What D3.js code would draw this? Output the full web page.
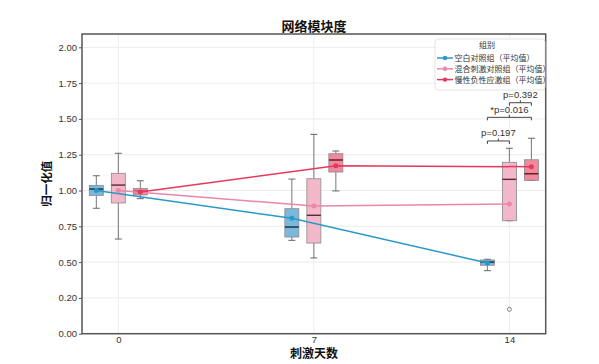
<!DOCTYPE html>
<html><head><meta charset="utf-8">
<script src="https://cdn.jsdelivr.net/npm/d3@7/dist/d3.min.js"></script>
<style>
html,body{margin:0;padding:0;background:#fff;}
svg text{font-family:"Liberation Sans","Noto Sans CJK SC",sans-serif;}
</style></head>
<body><svg id="c" width="599" height="364"></svg>
<script>
// ---- data ----
const days = [0, 7, 14];
const groupNames = ["空白对照组（平均值）", "混合刺激对照组（平均值）", "慢性负性应激组（平均值）"];
const yTickValues = [0, 0.25, 0.5, 0.75, 1.0, 1.25, 1.5, 1.75, 2.0];
const yTickLabels = ["0.00", "0.20", "0.50", "0.75", "1.00", "1.25", "1.50", "1.75", "2.00"];
const xTickLabels = ["0", "7", "14"];

// per group, per day
const blueWhiskLow  = [0.876, 0.652, 0.44];
const blueQ1        = [0.966, 0.675, 0.478];
const blueMedian    = [1.010, 0.745, 0.50];
const blueQ3        = [1.036, 0.873, 0.515];
const blueWhiskHigh = [1.103, 1.080, 0.52];
const blueMean      = [1.0, 0.806, 0.494];

const pinkWhiskLow  = [0.661, 0.529, 0.789];
const pinkQ1        = [0.913, 0.633, 0.789];
const pinkMedian    = [1.038, 0.827, 1.078];
const pinkQ3        = [1.12, 1.082, 1.197];
const pinkWhiskHigh = [1.26, 1.392, 1.295];
const pinkMean      = [1.0, 0.892, 0.906];
const pinkOutliers  = [[], [], [0.17]];

const redWhiskLow   = [0.943, 0.997, 1.071];
const redQ1         = [0.969, 1.129, 1.071];
const redMedian     = [0.994, 1.213, 1.117];
const redQ3         = [1.015, 1.257, 1.215];
const redWhiskHigh  = [1.068, 1.276, 1.365];
const redMean       = [0.99, 1.173, 1.166];

// significance brackets at day 14 (group index a,b ; level in data units)
const bracketA = [0, 0, 1];
const bracketB = [1, 2, 2];
const bracketLevel = [1.346, 1.511, 1.613];
const bracketLabels = ["p=0.197", "*p=0.016", "p=0.392"];

// ---- styles / layout ----
const lineColors = ["#2b98c8", "#ec87a6", "#e8375c"];
const boxFills = ["#6cb0d8", "#f2b0c4", "#f07b90"];
const medianColors = ["#1d2a38", "#5a2a36", "#5e1724"];
const groupOffset = [-22, 0, 22];
const boxW = 14;

const groups = [
  {lo: blueWhiskLow, q1: blueQ1, md: blueMedian, q3: blueQ3, hi: blueWhiskHigh, mean: blueMean, out: [[],[],[]]},
  {lo: pinkWhiskLow, q1: pinkQ1, md: pinkMedian, q3: pinkQ3, hi: pinkWhiskHigh, mean: pinkMean, out: pinkOutliers},
  {lo: redWhiskLow, q1: redQ1, md: redMedian, q3: redQ3, hi: redWhiskHigh, mean: redMean, out: [[],[],[]]}
];

const svg = d3.select("#c");
const L = 82, R = 545.7, T = 34, B = 333.7;
const x = d3.scaleLinear().domain([-1.3, 15.3]).range([L, R]);
const y = d3.scaleLinear().domain([0, 2.093]).range([B, T]);

// grid
const grid = svg.append("g");
grid.selectAll("line.h").data(yTickValues).join("line")
  .attr("x1", L).attr("x2", R).attr("y1", d => y(d)).attr("y2", d => y(d))
  .attr("stroke", "#ececec").attr("stroke-width", 1);
grid.selectAll("line.v").data(days).join("line")
  .attr("x1", d => x(d)).attr("x2", d => x(d)).attr("y1", T).attr("y2", B)
  .attr("stroke", "#ececec").attr("stroke-width", 1);

// axes
const yAxis = d3.axisLeft(y).tickValues(yTickValues).tickFormat((d, i) => yTickLabels[i]).tickSize(3).tickPadding(2);
const gy = svg.append("g").attr("transform", `translate(${L},0)`).call(yAxis);
gy.select(".domain").remove();
gy.selectAll("line").attr("stroke", "#555");
gy.selectAll("text").attr("font-size", 9.5).attr("fill", "#333");

const xAxis = d3.axisBottom(x).tickValues(days).tickFormat((d, i) => xTickLabels[i]).tickSize(0).tickPadding(3);
const gx = svg.append("g").attr("transform", `translate(0,${B})`).call(xAxis);
gx.select(".domain").remove();
gx.selectAll("text").attr("font-size", 9.5).attr("fill", "#333");

// boxes
const bx = svg.append("g");
groups.forEach((g, gi) => {
  days.forEach((d, di) => {
    const cx = x(d) + groupOffset[gi];
    bx.append("line").attr("x1", cx).attr("x2", cx).attr("y1", y(g.hi[di])).attr("y2", y(g.q3[di]))
      .attr("stroke", "#777").attr("stroke-width", 1);
    bx.append("line").attr("x1", cx).attr("x2", cx).attr("y1", y(g.q1[di])).attr("y2", y(g.lo[di]))
      .attr("stroke", "#777").attr("stroke-width", 1);
    [g.hi[di], g.lo[di]].forEach(v => {
      bx.append("line").attr("x1", cx - 3.5).attr("x2", cx + 3.5).attr("y1", y(v)).attr("y2", y(v))
        .attr("stroke", "#666").attr("stroke-width", 1);
    });
    bx.append("rect").attr("x", cx - boxW / 2).attr("width", boxW)
      .attr("y", y(g.q3[di])).attr("height", Math.max(1, y(g.q1[di]) - y(g.q3[di])))
      .attr("fill", boxFills[gi]).attr("fill-opacity", 0.9).attr("stroke", "#8a8a8a").attr("stroke-width", 0.8);
    bx.append("line").attr("x1", cx - boxW / 2).attr("x2", cx + boxW / 2)
      .attr("y1", y(g.md[di])).attr("y2", y(g.md[di]))
      .attr("stroke", medianColors[gi]).attr("stroke-width", 1.4);
    g.out[di].forEach(o => {
      bx.append("circle").attr("cx", cx).attr("cy", y(o)).attr("r", 2)
        .attr("fill", "none").attr("stroke", "#777").attr("stroke-width", 0.9);
    });
  });
});

// mean lines
const ln = svg.append("g");
groups.forEach((g, gi) => {
  const pts = days.map((d, di) => [x(d) + groupOffset[gi], y(g.mean[di])]);
  ln.append("path").attr("d", d3.line()(pts)).attr("fill", "none")
    .attr("stroke", lineColors[gi]).attr("stroke-width", 1.5);
  ln.selectAll(null).data(pts).join("circle").attr("cx", p => p[0]).attr("cy", p => p[1]).attr("r", 2.5)
    .attr("fill", lineColors[gi]);
});

// frame
svg.append("rect").attr("x", L).attr("y", T).attr("width", R - L).attr("height", B - T)
  .attr("fill", "none").attr("stroke", "#555").attr("stroke-width", 1.5);

// brackets
const br = svg.append("g");
bracketLabels.forEach((lab, i) => {
  const x1 = x(14) + groupOffset[bracketA[i]], x2 = x(14) + groupOffset[bracketB[i]];
  const yy = y(bracketLevel[i]);
  const xm = (x1 + x2) / 2;
  br.append("path").attr("d", `M${x1},${yy + 3}V${yy}H${x2}V${yy + 3}M${xm},${yy}V${yy - 2.5}`)
    .attr("fill", "none").attr("stroke", "#444").attr("stroke-width", 1);
  br.append("text").attr("x", xm).attr("y", yy - 4.5).attr("text-anchor", "middle")
    .attr("font-size", 9.5).attr("fill", "#333").text(lab);
});

// legend
const lg = svg.append("g");
lg.append("rect").attr("x", 435).attr("y", 39).attr("width", 110).attr("height", 51).attr("rx", 3)
  .attr("fill", "#fff").attr("fill-opacity", 0.9).attr("stroke", "#ddd").attr("stroke-width", 0.8);
lg.append("text").attr("x", 487).attr("y", 48).attr("text-anchor", "middle")
  .attr("font-size", 8).attr("fill", "#333").text("组别");
groupNames.forEach((nm, i) => {
  const yy = 58 + i * 10.8;
  lg.append("line").attr("x1", 437).attr("x2", 453).attr("y1", yy).attr("y2", yy)
    .attr("stroke", lineColors[i]).attr("stroke-width", 1.5);
  lg.append("circle").attr("cx", 445).attr("cy", yy).attr("r", 2.2).attr("fill", lineColors[i]);
  lg.append("text").attr("x", 454.5).attr("y", yy + 3).attr("font-size", 8).attr("fill", "#333").text(nm);
});

// titles
svg.append("text").attr("x", 314).attr("y", 31).attr("text-anchor", "middle")
  .attr("font-size", 13).attr("font-weight", "bold").attr("fill", "#111").text("网络模块度");
svg.append("text").attr("x", 314).attr("y", 358).attr("text-anchor", "middle")
  .attr("font-size", 12).attr("font-weight", "bold").attr("fill", "#111").text("刺激天数");
svg.append("text").attr("transform", `translate(51,${(T + B) / 2}) rotate(-90)`).attr("text-anchor", "middle")
  .attr("font-size", 11.5).attr("font-weight", "bold").attr("fill", "#111").text("归一化值");
</script></body></html>
